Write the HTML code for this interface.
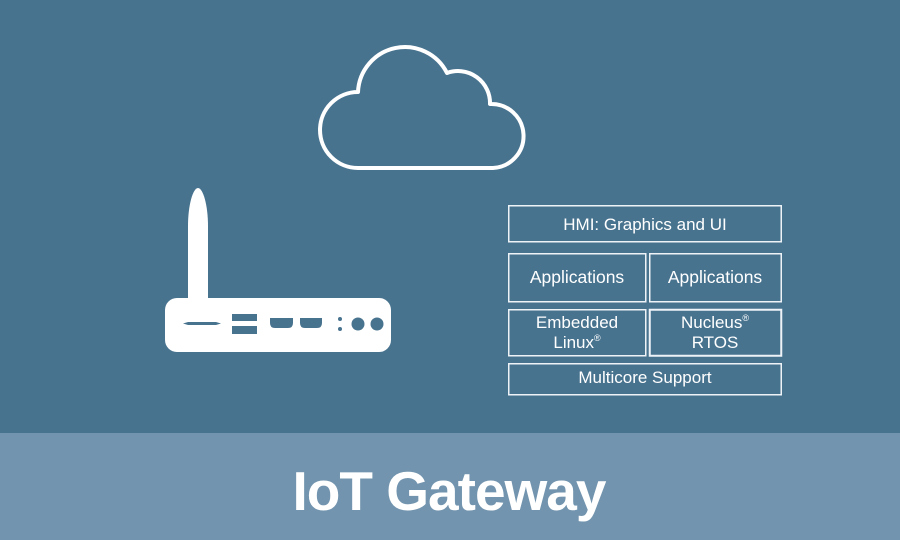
<!DOCTYPE html>
<html>
<head>
<meta charset="utf-8">
<style>
  html,body{margin:0;padding:0;}
  body{width:900px;height:540px;overflow:hidden;background:#48738f;}
  svg{display:block;}
  text{font-family:"Liberation Sans",sans-serif;fill:#ffffff;}
</style>
</head>
<body>
<svg width="900" height="540" viewBox="0 0 900 540" xmlns="http://www.w3.org/2000/svg">
  <rect x="0" y="0" width="900" height="433" fill="#48738f"/>
  <rect x="0" y="433" width="900" height="107" fill="#7294ae"/>

  <!-- Cloud -->
  <path d="M358,168 A38,38 0 0 1 358,92 A47,47 0 0 1 447,73 A32,32 0 0 1 490,104 A32,32 0 0 1 493,168 Z"
        fill="none" stroke="#ffffff" stroke-width="4" stroke-linejoin="round"/>

  <!-- Router -->
  <path d="M188,300 L188,226 C188,205 193,188 198,188 C203,188 208,205 208,226 L208,300 Z" fill="#ffffff"/>
  <rect x="165" y="298" width="226" height="54" rx="12" ry="12" fill="#ffffff"/>
  <path d="M183,323.5 L188,322 L216,322 L221,323.5 L216,325 L188,325 Z" fill="#48738f"/>
  <rect x="232" y="314" width="25" height="7" fill="#48738f"/>
  <rect x="232" y="326" width="25" height="8" fill="#48738f"/>
  <path d="M270,318 L293,318 L293,323 Q293,328 288,328 L275,328 Q270,328 270,323 Z" fill="#48738f"/>
  <path d="M300,318 L322,318 L322,323 Q322,328 317,328 L305,328 Q300,328 300,323 Z" fill="#48738f"/>
  <circle cx="340" cy="319" r="2" fill="#48738f"/>
  <circle cx="340" cy="329" r="2" fill="#48738f"/>
  <circle cx="358" cy="324" r="6.5" fill="#48738f"/>
  <circle cx="377" cy="324" r="6.5" fill="#48738f"/>

  <!-- Stack boxes -->
  <g fill="none" stroke="#eef3f7" stroke-width="1.5">
    <rect x="508.75" y="205.75" width="272.5" height="36"/>
    <rect x="508.75" y="253.75" width="137" height="48"/>
    <rect x="649.75" y="253.75" width="131.5" height="48"/>
    <rect x="508.75" y="309.75" width="137" height="46"/>
    <rect x="649.75" y="309.75" width="131.5" height="46" stroke-width="2"/>
    <rect x="508.75" y="363.75" width="272.5" height="31"/>
  </g>
  <g font-size="17" text-anchor="middle">
    <text x="645" y="230">HMI: Graphics and UI</text>
    <text x="577" y="283" font-size="17.5">Applications</text>
    <text x="715" y="283" font-size="17.5">Applications</text>
    <text x="577" y="328">Embedded</text>
    <text x="577" y="348">Linux<tspan font-size="9" dy="-7">®</tspan></text>
    <text x="715" y="328">Nucleus<tspan font-size="9" dy="-7">®</tspan></text>
    <text x="715" y="348">RTOS</text>
    <text x="645" y="383">Multicore Support</text>
  </g>

  <!-- Title -->
  <text x="449" y="510" font-size="55" font-weight="bold" text-anchor="middle" letter-spacing="-1">IoT Gateway</text>
</svg>
</body>
</html>
